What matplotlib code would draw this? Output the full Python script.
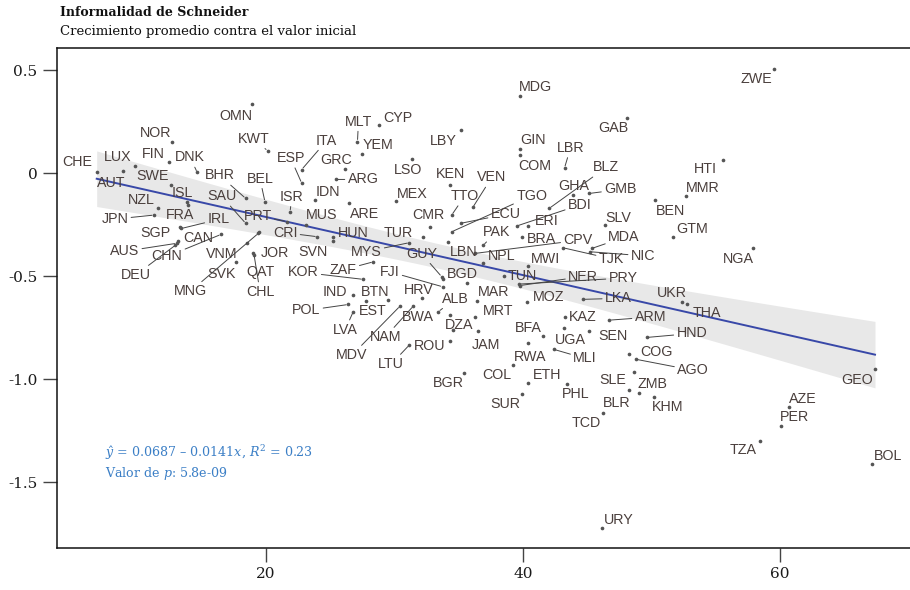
import numpy as np
import matplotlib
matplotlib.use("Agg")
import matplotlib.pyplot as plt

# Country codes, initial informality (x) and average growth (y)
countries = [
    "CHE", "AUT", "LUX", "NOR", "FIN", "DNK", "SWE", "ISL", "FRA", "NZL",
    "JPN", "SGP", "IRL", "CAN", "CHN", "AUS", "DEU", "VNM", "SVK", "MNG",
    "JOR", "QAT", "CHL", "SAU", "BHR", "BEL", "PRT", "KWT", "OMN", "ESP",
    "ITA", "MLT", "YEM", "CYP", "GRC", "ARG", "IDN", "ISR", "MUS", "ARE",
    "MEX", "LSO", "CMR", "CRI", "SVN", "HUN", "TUR", "MYS", "GUY", "BGD",
    "ZAF", "KOR", "FJI", "IND", "BTN", "EST", "LVA", "POL", "MDV", "NAM",
    "HRV", "BWA", "ALB", "LTU", "ROU", "DZA", "MRT", "MAR", "", "JAM",
    "BGR", "COL", "SUR", "RWA", "LBY", "MDG", "GIN", "COM", "LBR", "GAB",
    "KEN", "VEN", "TTO", "TGO", "ECU", "BLZ", "GHA", "GMB", "BDI", "ERI",
    "PAK", "BRA", "LBN", "CPV", "NPL", "MWI", "TUN", "NER", "PRY", "MOZ",
    "LKA", "MDA", "TJK", "NIC", "SLV", "KAZ", "ARM", "BFA", "UGA", "SEN",
    "HND", "MLI", "COG", "AGO", "ETH", "PHL", "SLE", "ZMB", "BLR", "KHM",
    "TCD", "URY", "UKR", "THA", "HTI", "MMR", "BEN", "GTM", "NGA", "ZWE",
    "GEO", "AZE", "PER", "TZA", "BOL",
]
initial = [
    6.83, 8.85, 9.81, 12.66, 12.47, 14.65, 12.61, 13.89, 13.93, 11.62,
    11.28, 13.31, 13.42, 13.15, 16.50, 13.05, 12.96, 18.50, 17.67, 19.40,
    19.49, 19.01, 19.07, 18.42, 18.42, 19.92, 21.61, 20.13, 18.93, 22.78,
    22.78, 27.12, 27.49, 28.82, 26.15, 25.45, 23.81, 21.87, 23.11, 26.46,
    30.12, 31.39, 32.76, 23.99, 25.24, 25.24, 32.19, 31.15, 33.67, 33.77,
    28.35, 27.57, 33.75, 26.79, 29.52, 27.78, 26.79, 26.40, 30.43, 31.46,
    32.12, 34.32, 33.41, 31.15, 34.32, 34.53, 36.26, 36.44, 35.62, 36.52,
    35.41, 39.20, 39.92, 40.41, 35.18, 39.77, 39.77, 39.77, 43.23, 48.12,
    34.32, 36.09, 34.45, 34.45, 35.15, 42.05, 43.87, 45.16, 39.51, 40.41,
    36.91, 39.90, 34.19, 36.26, 36.86, 40.41, 38.52, 39.77, 39.69, 40.33,
    44.69, 45.35, 43.14, 45.21, 46.38, 43.27, 46.72, 41.53, 43.19, 45.16,
    49.63, 42.41, 48.27, 48.79, 40.39, 43.45, 48.64, 49.05, 48.27, 50.19,
    46.25, 46.17, 52.35, 52.74, 55.54, 52.68, 50.27, 51.65, 57.92, 59.53,
    67.39, 60.72, 60.06, 58.44, 67.18,
]
growth = [
    0.006, 0.010, 0.035, 0.152, 0.052, 0.003, -0.057, -0.141, -0.155, -0.171,
    -0.204, -0.264, -0.269, -0.330, -0.298, -0.341, -0.350, -0.341, -0.431, -0.293,
    -0.286, -0.390, -0.396, -0.244, -0.123, -0.139, -0.236, 0.108, 0.333, -0.049,
    0.017, 0.153, 0.093, 0.232, 0.018, -0.031, -0.131, -0.188, -0.252, -0.144,
    -0.134, 0.067, -0.261, -0.309, -0.329, -0.309, -0.309, -0.338, -0.503, -0.512,
    -0.431, -0.516, -0.552, -0.592, -0.614, -0.619, -0.673, -0.638, -0.646, -0.646,
    -0.608, -0.689, -0.673, -0.835, -0.813, -0.762, -0.698, -0.621, -0.535, -0.766,
    -0.972, -0.932, -1.074, -0.824, 0.207, 0.375, 0.119, 0.086, 0.025, 0.266,
    -0.058, -0.167, -0.204, -0.285, -0.244, -0.171, -0.107, -0.099, -0.257, -0.257,
    -0.350, -0.309, -0.333, -0.390, -0.438, -0.451, -0.502, -0.546, -0.539, -0.625,
    -0.613, -0.366, -0.363, -0.382, -0.250, -0.698, -0.714, -0.791, -0.754, -0.766,
    -0.798, -0.856, -0.879, -0.904, -1.021, -1.024, -0.968, -1.067, -1.051, -1.087,
    -1.167, -1.722, -0.625, -0.636, 0.065, -0.112, -0.131, -0.312, -0.366, 0.503,
    -0.953, -1.134, -1.230, -1.300, -1.413,
]

# Fitted model reported on the chart
intercept = 0.0687
slope = -0.0141
r_squared = 0.23
p_value = "5.8e-09"
t_crit = 1.977

x_ticks = [20, 40, 60]
y_ticks = [0.5, 0, -0.5, -1.0, -1.5]
y_tick_labels = ["0.5", "0", "-0.5", "-1.0", "-1.5"]

title = "Informalidad de Schneider"
subtitle = "Crecimiento promedio contra el valor inicial"

# Label placement (pixels right, pixels down from the point)
label_offsets = {
    "CHE": (-19, -10), "AUT": (-11, 12), "LUX": (-17, -9), "NOR": (-16, -9),
    "FIN": (-16, -8), "DNK": (-7, -15), "SWE": (-18, -9), "ISL": (-5, -9),
    "FRA": (-8, 10), "NZL": (-17, -8), "JPN": (-39, 4), "SGP": (-25, 6),
    "IRL": (37, -9), "CAN": (20, -3), "CHN": (-54, 22), "AUS": (-52, 8),
    "DEU": (-40, 30), "VNM": (-25, 11), "SVK": (-14, 12), "MNG": (-68, 58),
    "JOR": (16, 21), "QAT": (7, 19), "CHL": (6, 37), "SAU": (-24, -27),
    "BHR": (-26, -23), "BEL": (-5, -23), "PRT": (-29, -6), "KWT": (-14, -12),
    "OMN": (-16, 12), "ESP": (-11, -25), "ITA": (25, -29), "MLT": (1, -20),
    "YEM": (16, -9), "CYP": (19, -7), "GRC": (-9, -9), "ARG": (27, 0),
    "IDN": (13, -8), "ISR": (2, -15), "MUS": (16, -10), "ARE": (16, 11),
    "MEX": (16, -7), "LSO": (-4, 11), "CMR": (-2, -12), "CRI": (-32, -4),
    "SVN": (-20, 11), "HUN": (20, -4), "TUR": (-24, -4), "MYS": (-43, 9),
    "GUY": (-20, -23), "BGD": (19, -5), "ZAF": (-30, 8), "KOR": (-60, -7),
    "FJI": (-53, -15), "IND": (-18, -3), "BTN": (-13, -8), "EST": (7, 10),
    "LVA": (-8, 18), "POL": (-42, 6), "MDV": (-48, 49), "NAM": (-28, 31),
    "HRV": (-3, -8), "BWA": (-32, 2), "ALB": (17, -13), "LTU": (-18, 19),
    "ROU": (-20, 5), "DZA": (6, -5), "MRT": (23, -6), "MAR": (16, -9),
    "JAM": (8, 14), "BGR": (-16, 10), "COL": (-16, 10), "SUR": (-17, 10),
    "RWA": (2, 14), "LBY": (-18, 11), "MDG": (15, -9), "GIN": (13, -9),
    "COM": (15, 11), "LBR": (6, -20), "GAB": (-14, 10), "KEN": (0, -11),
    "VEN": (19, -30), "TTO": (13, -19), "TGO": (80, -36), "ECU": (45, -9),
    "BLZ": (57, -41), "GHA": (1, -9), "GMB": (31, -4), "BDI": (63, -21),
    "ERI": (18, -5), "PAK": (13, -13), "BRA": (20, 2), "LBN": (15, 10),
    "CPV": (103, -13), "NPL": (19, -7), "MWI": (17, -7), "TUN": (18, 0),
    "NER": (63, -9), "PRY": (104, -6), "MOZ": (21, -5), "LKA": (35, -1),
    "MDA": (32, -11), "TJK": (48, 11), "NIC": (53, 4), "SLV": (13, -7),
    "KAZ": (18, 0), "ARM": (41, -3), "BFA": (-14, -8), "UGA": (6, 12),
    "SEN": (24, 5), "HND": (45, -4), "MLI": (31, 9), "COG": (27, -2),
    "AGO": (57, 11), "ETH": (19, -8), "PHL": (8, 10), "SLE": (-21, 8),
    "ZMB": (13, -9), "BLR": (-13, 13), "KHM": (14, 10), "TCD": (-17, 10),
    "URY": (16, -8), "UKR": (-10, -9), "THA": (20, 9), "HTI": (-17, 9),
    "MMR": (17, -8), "BEN": (16, 11), "GTM": (19, -8), "NGA": (-15, 11),
    "ZWE": (-18, 10), "GEO": (-18, 11), "AZE": (14, -8), "PER": (14, -9),
    "TZA": (-17, 9), "BOL": (16, -8),
}
# Labels joined to their point by a leader segment
linked = {
    "DNK", "JPN", "IRL", "CHN", "AUS", "DEU", "MNG", "CHL", "SAU", "BHR",
    "BEL", "PRT", "KWT", "ESP", "ITA", "MLT", "ARG", "ISR", "CRI", "MYS",
    "GUY", "ZAF", "KOR", "FJI", "LVA", "POL", "MDV", "NAM", "ALB", "LTU",
    "LBR", "VEN", "TTO", "TGO", "ECU", "BLZ", "GMB", "BDI", "PAK", "CPV",
    "NER", "PRY", "LKA", "MDA", "TJK", "NIC", "ARM", "HND", "MLI", "AGO",
}

plt.rcParams["axes.unicode_minus"] = False
plt.rcParams["mathtext.fontset"] = "dejavuserif"

W, H = 910, 590
fig = plt.figure(figsize=(W / 100, H / 100), dpi=100)
ax = fig.add_axes([57 / W, (H - 548) / H, (916 - 57) / W, (548 - 48) / H])
ax.set_xlim(3.74, 70.58)
ax.set_ylim(-1.82, 0.607)

x = np.array(initial)
y = np.array(growth)
n = len(x)

# Fitted line with 95% confidence band
xs = np.linspace(x.min(), x.max(), 200)
fit = intercept + slope * xs
resid = y - (intercept + slope * x)
s = np.sqrt(np.sum(resid ** 2) / (n - 2))
sxx = np.sum((x - x.mean()) ** 2)
half = t_crit * s * np.sqrt(1 / n + (xs - x.mean()) ** 2 / sxx)
ax.fill_between(xs, fit - half, fit + half, color="#e8e8e8", lw=0, zorder=1)
ax.plot(xs, fit, color="#3848a8", lw=1.4, zorder=2)

ax.scatter(x, y, s=7, color="#555555", lw=0, zorder=3)

text_color = "#4a3f3c"
for code, xi, yi in zip(countries, initial, growth):
    if not code:
        continue
    dx, dy = label_offsets[code]
    arrow = None
    if code in linked:
        arrow = dict(arrowstyle="-", color="#444444", lw=0.7,
                     shrinkA=0, shrinkB=1.5)
    ax.annotate(code, xy=(xi, yi), xytext=(dx, -dy), textcoords="offset pixels",
                ha="center", va="center", fontsize=10.3,
                family="Liberation Sans", color=text_color,
                arrowprops=arrow, zorder=4)

ax.set_xticks(x_ticks)
ax.set_xticklabels([str(t) for t in x_ticks])
ax.set_yticks(y_ticks)
ax.set_yticklabels(y_tick_labels)
ax.tick_params(direction="out", length=10, width=1, color="#444444",
               labelsize=11, labelcolor="#1a1a1a", pad=4)
for lab in ax.get_xticklabels() + ax.get_yticklabels():
    lab.set_family("DejaVu Serif")
for side in ("left", "bottom", "top", "right"):
    ax.spines[side].set_linewidth(1.1)
    ax.spines[side].set_color("#111111")

fig.text(60 / W, 1 - 13 / H, title, fontsize=9, fontweight="bold",
         family="DejaVu Serif", va="center", ha="left", color="#111111")
fig.text(60 / W, 1 - 32 / H, subtitle, fontsize=9.5, family="DejaVu Serif",
         va="center", ha="left", color="#111111")

stat_color = "#3b7fc6"
fig.text(105 / W, 1 - 453 / H,
         r"$\hat{y}$ = %.4f – %.4f$x$, $R^2$ = %.2f" % (intercept, -slope, r_squared),
         fontsize=9.1, family="DejaVu Serif", color=stat_color, va="center", ha="left")
fig.text(105 / W, 1 - 473 / H, r"Valor de $p$: " + p_value,
         fontsize=9.1, family="DejaVu Serif", color=stat_color, va="center", ha="left")

fig.savefig("out.png", dpi=100)
